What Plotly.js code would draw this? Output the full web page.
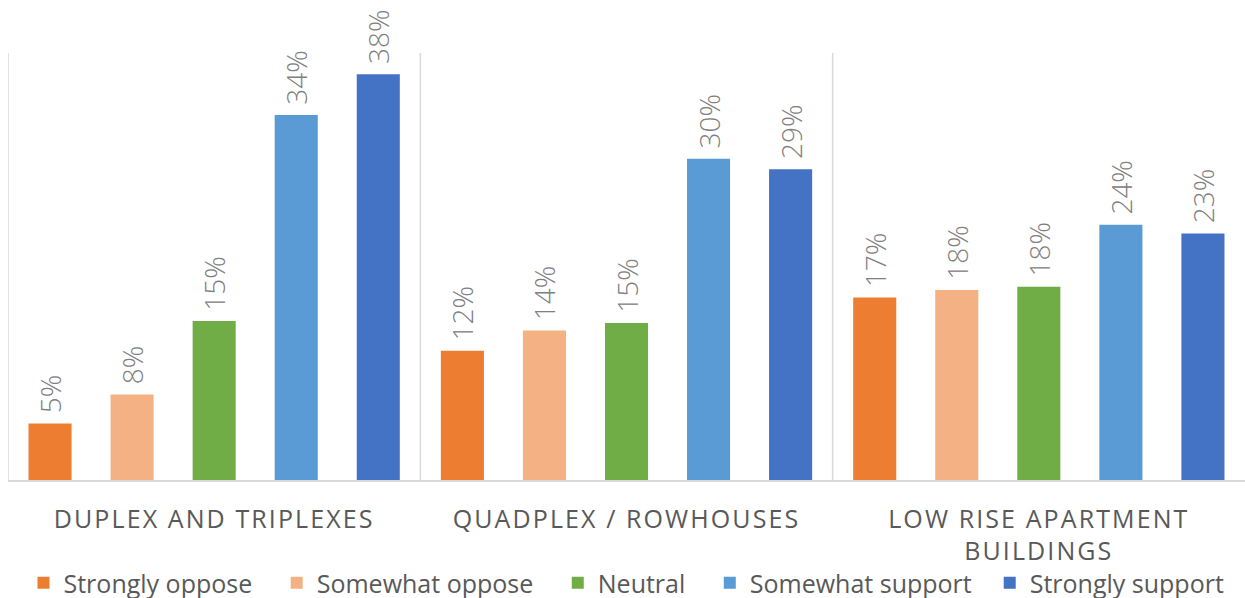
<!DOCTYPE html>
<html>
<head>
<meta charset="utf-8">
<script src="https://cdn.plot.ly/plotly-3.0.1.min.js"></script>
<style>
html,body{margin:0;padding:0;background:#fff;}
#chart{width:1245px;height:598px;}
.xtick text{letter-spacing:2.1px;}
</style>
</head>
<body>
<div id="chart"></div>
<script>
const categories = ["DUPLEX AND TRIPLEXES", "QUADPLEX / ROWHOUSES", "LOW RISE APARTMENT<br>BUILDINGS"];
const seriesNames = ["Strongly oppose", "Somewhat oppose", "Neutral", "Somewhat support", "Strongly support"];
const stronglyOppose = [5.3, 12.1, 17.1];
const somewhatOppose = [8.0, 14.0, 17.8];
const neutral = [14.9, 14.7, 18.1];
const somewhatSupport = [34.2, 30.1, 23.9];
const stronglySupport = [38.0, 29.1, 23.1];
const colors = ["#ED7D31", "#F4B183", "#70AD47", "#5B9BD5", "#4472C4"];

const seriesValues = [stronglyOppose, somewhatOppose, neutral, somewhatSupport, stronglySupport];
const font = "'Open Sans', 'Noto Sans', sans-serif";
const legendPads = [3, 3, 3, 2, 0];

const data = seriesValues.map((vals, i) => ({
  type: "bar",
  name: seriesNames[i] + "\u00a0".repeat(legendPads[i]),
  x: categories,
  y: vals,
  marker: {color: colors[i]},
  texttemplate: "\u00a0%{y:.0f}%",
  textposition: "outside",
  textangle: -90,
  constraintext: "none",
  cliponaxis: false,
  textfont: {family: font, size: 28, color: "#808080", weight: 300},
  hoverinfo: "skip"
}));

const shapes = [-0.5, 0.5, 1.5].map(xv => ({
  type: "line", xref: "x", yref: "y",
  x0: xv, x1: xv, y0: 0, y1: 40,
  line: {color: "#d9d9d9", width: 1.5}
}));

const layout = {
  width: 1245, height: 598,
  margin: {l: 8, r: 0, t: 53, b: 118},
  paper_bgcolor: "#ffffff",
  plot_bgcolor: "#ffffff",
  barmode: "group",
  bargap: 0.005,
  bargroupgap: 0.475,
  showlegend: true,
  legend: {
    orientation: "h",
    x: 0.5, xanchor: "center",
    xref: "paper",
    yref: "container",
    y: 15 / 598, yanchor: "middle",
    bgcolor: "rgba(0,0,0,0)",
    font: {family: font, size: 25, color: "#595959"},
    itemwidth: 30,
    traceorder: "normal"
  },
  xaxis: {
    type: "category",
    range: [-0.5, 2.5],
    showline: true,
    linecolor: "#d9d9d9",
    linewidth: 1.5,
    ticks: "",
    ticklabelstandoff: 16,
    tickfont: {family: font, size: 25, color: "#595959"},
    showgrid: false,
    zeroline: false
  },
  yaxis: {
    range: [0, 40],
    showticklabels: false,
    showgrid: false,
    zeroline: false,
    showline: false
  },
  shapes: shapes
};

Plotly.newPlot("chart", data, layout, {displayModeBar: false, staticPlot: true});
</script>
</body>
</html>
